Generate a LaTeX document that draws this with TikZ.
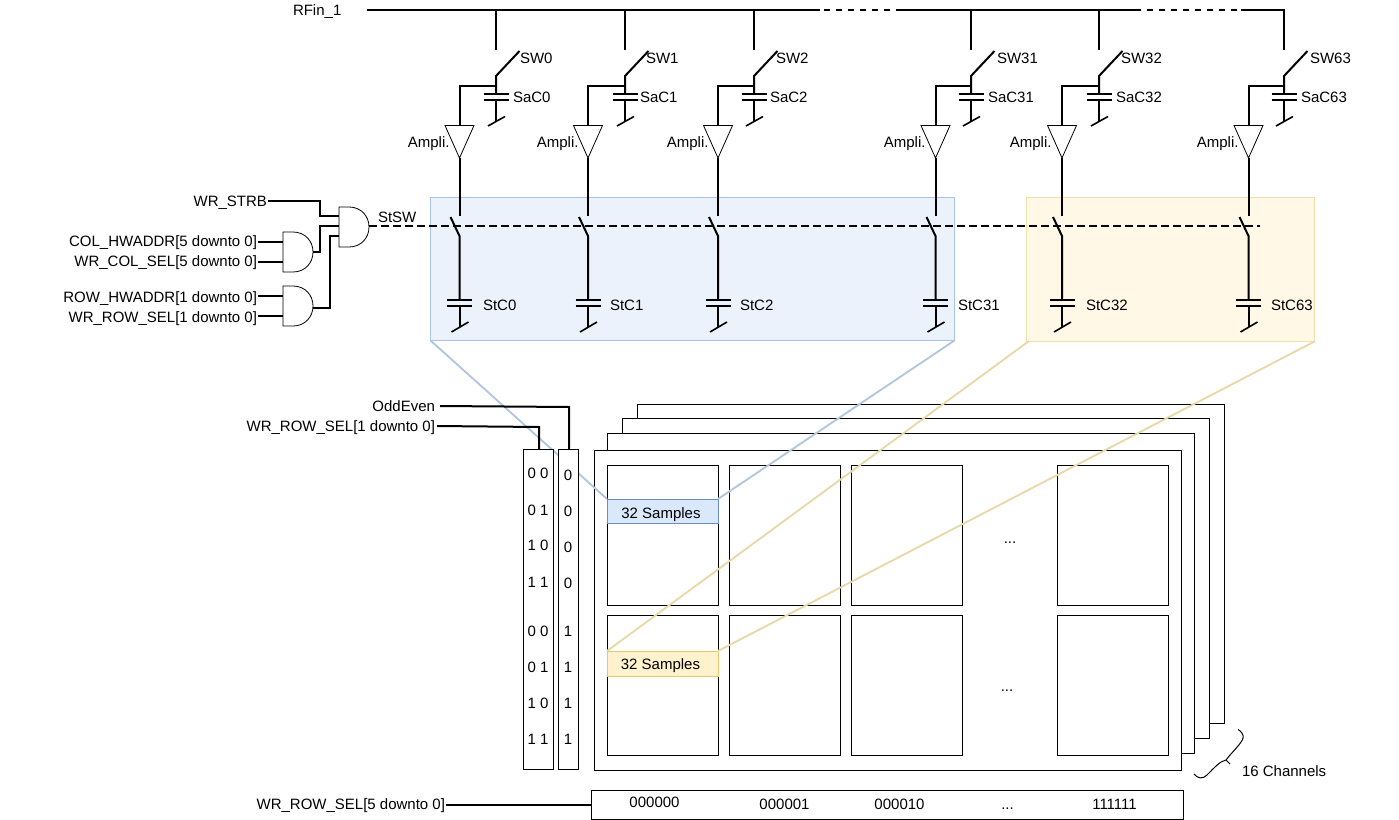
\documentclass[tikz,border=0pt]{standalone}
\usepackage{fontspec}
\setmainfont{Liberation Sans}
\definecolor{panelblue}{HTML}{ECF2FB}
\definecolor{panelblueline}{HTML}{A9C4E6}
\definecolor{panelyellow}{HTML}{FFF8E6}
\definecolor{panelyellowline}{HTML}{F0DFA6}
\definecolor{linkblue}{HTML}{B3C6E0}
\definecolor{linkyellow}{HTML}{E8D9A8}
\definecolor{cellblue}{HTML}{DAE8FC}
\definecolor{cellblueline}{HTML}{6C8EBF}
\definecolor{cellyellow}{HTML}{FFF2CC}
\definecolor{cellyellowline}{HTML}{E3C870}
\tikzset{
  lbl/.style={inner sep=0pt,outer sep=0pt,font=\fontsize{11.25}{13}\selectfont,text height=8pt,text depth=0pt},
  lw/.style={lbl,anchor=west},
  le/.style={lbl,anchor=east},
  lc/.style={lbl,anchor=center},
  wire/.style={line width=1.5pt,black,line join=miter},
  slashwire/.style={line width=1.2pt,black},
  rect/.style={inner sep=0pt,outer sep=0pt,anchor=north west,line width=0.75pt},
  thinbox/.style={rect,draw=black,fill=white},
  gatebox/.style={draw=black,line width=0.6pt,fill=white},
  link/.style={line width=1.4pt}
}
\begin{document}
\begin{tikzpicture}[x=0.75pt,y=-0.75pt]
\useasboundingbox (0,0) rectangle (1399,820);
% panels
\node[rect,draw=panelblueline,fill=panelblue,minimum width=393pt,minimum height=107.25pt] (bluepanel) at (430.5,197.5) {};
\node[rect,draw=panelyellowline,fill=panelyellow,minimum width=216pt,minimum height=108pt] (yellowpanel) at (1026.5,197.5) {};
% stacked pages
\node[thinbox,minimum width=440.25pt,minimum height=239.25pt] (page3) at (637,404) {};
\node[thinbox,minimum width=440.25pt,minimum height=240pt] (page2) at (622,418) {};
\node[thinbox,minimum width=440.25pt,minimum height=240pt] (page1) at (607,433) {};
\node[thinbox,minimum width=440.25pt,minimum height=240pt] (page0) at (594,450) {};
% cells
\foreach \n/\cx in {a/607,b/729.5,c/851.5,d/1057.5}{
  \node[thinbox,minimum width=83.25pt,minimum height=105pt] (cell\n top) at (\cx,465) {};
  \node[thinbox,minimum width=83.25pt,minimum height=105pt] (cell\n bot) at (\cx,615) {};
}
% highlighted rows
\node[rect,draw=cellblueline,fill=cellblue,minimum width=83.25pt,minimum height=18.5pt] (rowblue) at (607,499) {};
\node[lc] (rowbluetxt) at (661,513) {32 Samples};
\node[rect,draw=cellyellowline,fill=cellyellow,minimum width=83.25pt,minimum height=18.75pt] (rowyellow) at (607,651) {};
\node[lc] (rowyellowtxt) at (660.5,664) {32 Samples};
\node[lc] (dotsa) at (1010,538) {...};
\node[lc] (dotsb) at (1007,686) {...};
% links from panels to rows
\draw[link,linkblue] (bluepanel.south west) -- (rowblue.north west);
\draw[link,linkblue] (bluepanel.south east) -- (rowblue.north east);
\coordinate (ylA) at (1029,341);
\draw[link,linkyellow] (ylA) -- (rowyellow.north west);
\draw[link,linkyellow] (yellowpanel.south east) -- (rowyellow.north east);
% address registers
\node[thinbox,minimum width=22.5pt,minimum height=240pt] (regA) at (523.5,449.5) {};
\node[thinbox,minimum width=15pt,minimum height=240pt] (regB) at (558.5,449.5) {};
\foreach \i/\t/\ya in {1/0 0/473,2/0 1/510,3/1 0/545,4/1 1/582,5/0 0/631,6/0 1/667,7/1 0/703,8/1 1/739}{
  \node[lc] (ra\i) at (538,\ya) {\t};
}
\foreach \i/\t/\yb in {1/0/475,2/0/511,3/0/547,4/0/583,5/1/631,6/1/667,7/1/703,8/1/739}{
  \node[lc] (rb\i) at (568,\yb) {\t};
}
% register inputs
\node[le] (oddeven) at (435,406.5) {OddEven};
\node[le] (wrrow) at (435,426.5) {WR\_ROW\_SEL[1 downto 0]};
\coordinate (oddS) at (440,406);
\coordinate (oddC) at (569,407);
\coordinate (oddE) at (569,449.5);
\draw[wire] (oddS) -- (oddC) -- (oddE);
\coordinate (rowS) at (437,426);
\coordinate (rowC) at (539,427);
\coordinate (rowE) at (539,449.5);
\draw[wire] (rowS) -- (rowC) -- (rowE);
% bottom address
\node[le] (wrrowfive) at (445,804.5) {WR\_ROW\_SEL[5 downto 0]};
\node[thinbox,minimum width=444pt,minimum height=22pt] (addr) at (591,790) {};
\coordinate (addrS) at (446,804.5);
\coordinate (addrE) at (591,804.5);
\draw[wire] (addrS) -- (addrE);
\node[lc] (adra) at (654.5,802.5) {000000};
\node[lc] (adrb) at (784.5,804.5) {000001};
\node[lc] (adrc) at (899.5,804.5) {000010};
\node[lc] (adrd) at (1007.5,804.5) {...};
\node[lc] (adre) at (1114.5,804.5) {111111};
% brace
\draw[line width=0.75pt,black] (1238,729.5) .. controls (1241,731) and (1244,735) .. (1243,738)
  .. controls (1242,743) and (1232,752) .. (1226,760) -- (1230,764)
  (1226,760) .. controls (1220,761) and (1214,768) .. (1207,775)
  .. controls (1203,779) and (1198,779) .. (1194,774);
\node[lw] (channels) at (1242,771.5) {16 Channels};
% top bus
\node[lw] (rfin) at (293,10.5) {RFin\_1};
\coordinate (busS) at (367,10);
\coordinate (busA) at (820,10);
\coordinate (busAd) at (824,10);
\coordinate (busBd) at (891,10);
\coordinate (busB) at (896,10);
\coordinate (busC) at (1141,10);
\coordinate (busCd) at (1147,10);
\coordinate (busDd) at (1238,10);
\coordinate (busD) at (1241,10);
\coordinate (busE) at (1284.5,10);
\draw[wire] (busS) -- (busA) (busB) -- (busC) (busD) -- (busE);
\draw[wire,dash pattern=on 4.5pt off 4.5pt] (busAd) -- (busBd) (busCd) -- (busDd);
% columns
\foreach \n/\sx/\ax/\swx/\sacx/\ampx/\stx/\idx in {
  0/496/459.5/520/513/449.5/483/0,
  1/625/588/646/640/578.5/610/1,
  2/754/718/776/770/708.5/740/2,
  31/971/935.5/997/988/925.5/958/31,
  32/1099/1062/1121/1116/1051.5/1086/32,
  63/1284/1248.5/1310/1301/1238.5/1271/63}{
  % upper switch and sampling capacitor
  \coordinate (tap\n) at (\sx,10);
  \coordinate (stub\n) at (\sx,50);
  \coordinate (swa\n) at (\sx,76);
  \coordinate (swb\n) at (\sx+23.5,51);
  \coordinate (node\n) at (\sx,86);
  \coordinate (capa\n) at (\sx,94);
  \coordinate (capb\n) at (\sx,100);
  \coordinate (gnd\n) at (\sx,121);
  \draw[wire] (tap\n) -- (stub\n);
  \draw[wire] (swb\n) -- (swa\n) -- (capa\n);
  \draw[wire] (\sx-12.5,94) -- (\sx+12.5,94) (\sx-12.5,100) -- (\sx+12.5,100);
  \draw[wire] (capb\n) -- (gnd\n);
  \draw[slashwire] (\sx-8,126) -- (\sx+9,116.5);
  % amplifier
  \coordinate (ampin\n) at (\ax,125);
  \coordinate (ampout\n) at (\ax,158);
  \draw[wire] (node\n) -- (\ax,86) -- (ampin\n);
  \draw[gatebox] (\ax-14.5,125.5) -- (\ax+14.5,125.5) -- (ampout\n) -- cycle;
  % storage switch and capacitor
  \coordinate (stin\n) at (\ax,216);
  \coordinate (stsa\n) at (\ax-9,217);
  \coordinate (stsb\n) at (\ax,236);
  \coordinate (stca\n) at (\ax,300);
  \coordinate (stcb\n) at (\ax,306);
  \coordinate (stgnd\n) at (\ax,327);
  \draw[wire] (ampout\n) -- (stin\n);
  \draw[wire] (stsa\n) -- (stsb\n) -- (stca\n);
  \draw[wire] (\ax-12.5,300) -- (\ax+12.5,300) (\ax-12.5,306) -- (\ax+12.5,306);
  \draw[wire] (stcb\n) -- (stgnd\n);
  \draw[slashwire] (\ax-8,332) -- (\ax+9,322);
  % labels
  \node[lw] (swl\n) at (\swx,58) {SW\idx};
  \node[lw] (sacl\n) at (\sacx,97) {SaC\idx};
  \node[le] (ampl\n) at (\ampx,142) {Ampli.};
  \node[lw] (stcl\n) at (\stx,305) {StC\idx};
}
% StSW dashed line
\node[lw] (stsw) at (378,217) {StSW};
\coordinate (sigS) at (369,226);
\coordinate (sigE) at (1260,226);
\draw[wire,dash pattern=on 6pt off 3pt] (sigS) -- (sigE);
% input labels
\node[le] (strb) at (267,201.5) {WR\_STRB};
\node[le] (colh) at (257,241.5) {COL\_HWADDR[5 downto 0]};
\node[le] (cols) at (257,261.5) {WR\_COL\_SEL[5 downto 0]};
\node[le] (rowh) at (257,297) {ROW\_HWADDR[1 downto 0]};
\node[le] (rows) at (257,317) {WR\_ROW\_SEL[1 downto 0]};
% gate wires
\coordinate (stbS) at (268,201.5);
\coordinate (stbE) at (339,216);
\draw[wire] (stbS) -- (320,201.5) -- (320,216) -- (stbE);
\coordinate (g1out) at (313,251.5);
\coordinate (g1E) at (339,226);
\draw[wire] (g1out) -- (320,251.5) -- (320,226) -- (g1E);
\coordinate (g2out) at (313,308);
\coordinate (g2E) at (339,236);
\draw[wire] (g2out) -- (330,308) -- (330,236) -- (g2E);
\draw[wire] (258,241.5) -- (283,241.5) (258,261.5) -- (283,261.5);
\draw[wire] (258,296) -- (283,296) (258,316) -- (283,316);
% AND gates
\draw[gatebox] (339,207) -- (349,207) .. controls (361,207) and (369,216) .. (369,227) .. controls (369,238) and (361,247) .. (349,247) -- (339,247) -- cycle;
\draw[gatebox] (283,232) -- (293,232) .. controls (305,232) and (313,241) .. (313,252) .. controls (313,263) and (305,272) .. (293,272) -- (283,272) -- cycle;
\draw[gatebox] (283,286) -- (293,286) .. controls (305,286) and (313,295) .. (313,306) .. controls (313,317) and (305,326) .. (293,326) -- (283,326) -- cycle;
\end{tikzpicture}
\end{document}
